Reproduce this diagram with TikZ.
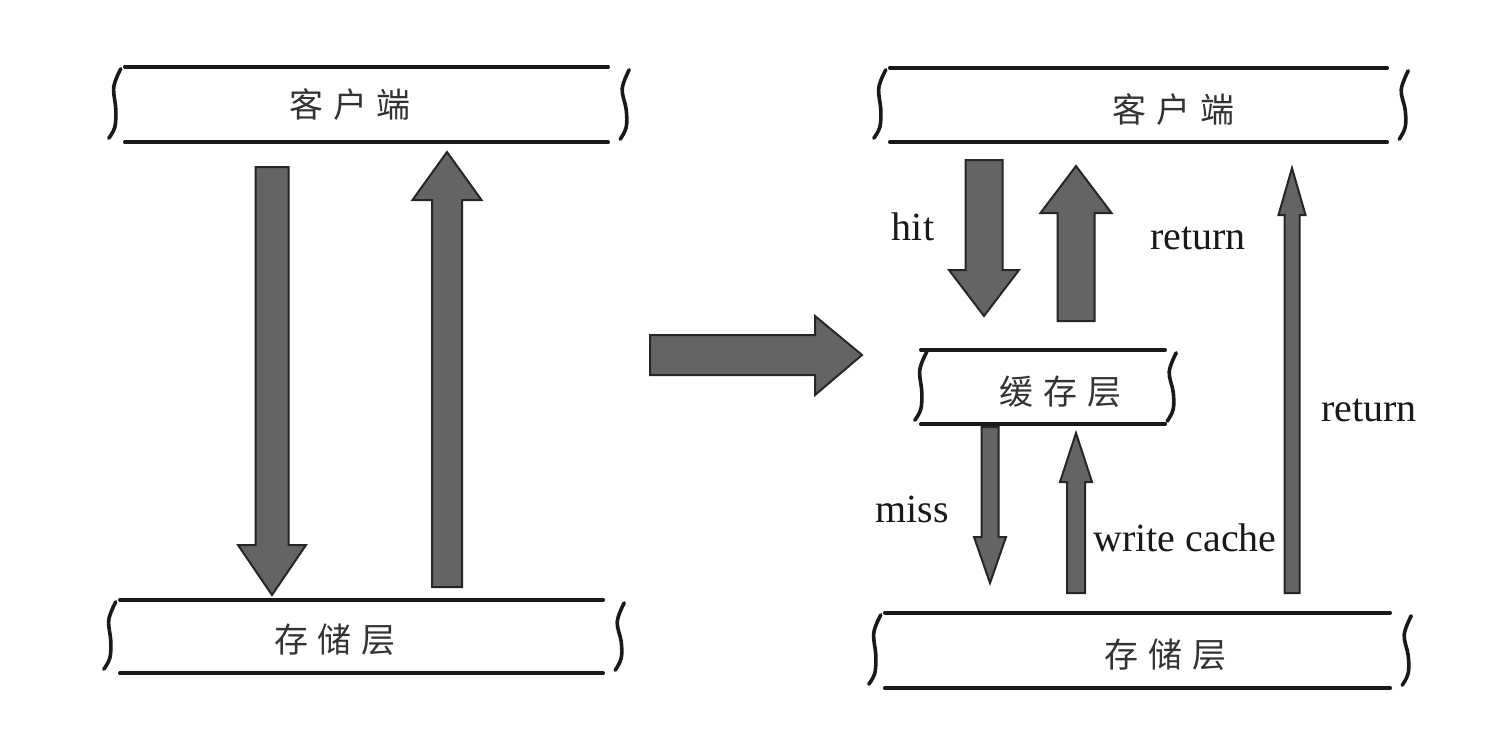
\documentclass[tikz,border=0pt]{standalone}
\usepackage{fontspec}
\setmainfont{Liberation Serif}
\newfontfamily\cjk{Noto Sans CJK SC}
\begin{document}
\begin{tikzpicture}[x=1pt,y=-1pt,
  layer/.style={rectangle,inner sep=0pt},
  bar/.style={line width=3.6pt,line cap=round,black!90},
  brace/.style={line width=3.6pt,line cap=round,line join=round,black!90},
  arr/.style={fill={rgb,255:red,100;green,100;blue,100},draw=black!85,line width=2pt,line join=miter},
  cn/.style={font=\cjk\fontsize{34}{40}\selectfont,text=black!80},
  lbl/.style={font=\fontsize{40}{44}\selectfont,text=black!90}]
\fill[white] (0,0) rectangle (1512,748);
\useasboundingbox (0,0) rectangle (1512,748);
% box name, left brace offset, right brace offset
\newcommand\layerbox[3]{%
  \draw[bar] (#1.north west) -- (#1.north east);
  \draw[bar] (#1.south west) -- (#1.south east);
  \draw[brace] plot[smooth,tension=0.6] coordinates {([shift={(-4+#2,2)}]#1.north west) ([shift={(-11+#2,20)}]#1.north west) ([shift={(-9+#2,5)}]#1.west) ([shift={(-10+#2,-15)}]#1.south west) ([shift={(-16+#2,-4)}]#1.south west)};
  \draw[brace] plot[smooth,tension=0.6] coordinates {([shift={(21+#3,3)}]#1.north east) ([shift={(14+#3,22)}]#1.north east) ([shift={(18+#3,5)}]#1.east) ([shift={(18+#3,-15)}]#1.south east) ([shift={(12+#3,-3)}]#1.south east)};
}
% vertical block arrow: x, tail y, tip y, half shaft, half head, head base y
\newcommand\varr[6]{%
  \draw[arr] (#1-#4,#2) -- (#1-#4,#6) -- (#1-#5,#6) -- (#1,#3) -- (#1+#5,#6) -- (#1+#4,#6) -- (#1+#4,#2) -- cycle;}

% left side
\node[layer,minimum width=483pt,minimum height=75pt] (ltop) at (366.5,104.5) {};
\node[layer,minimum width=483pt,minimum height=73pt] (lbot) at (361.5,636.5) {};
\layerbox{ltop}{0}{0}
\layerbox{lbot}{0}{0}
\node[cn] (ltoptext) at (350,105) {客\hspace{10pt}户\hspace{10pt}端};
\node[cn] (lbottext) at (335,640) {存\hspace{10pt}储\hspace{10pt}层};
\varr{272}{167}{595}{16.5}{34}{545}
\varr{447}{587}{152}{15}{34.5}{200}

% middle arrow
\draw[arr] (650,335) -- (815,335) -- (815,316) -- (862,355) -- (815,395) -- (815,375) -- (650,375) -- cycle;

% right side
\node[layer,minimum width=497pt,minimum height=74pt] (rtop) at (1138.5,105) {};
\node[layer,minimum width=505pt,minimum height=75pt] (rbot) at (1137.5,650.5) {};
\node[layer,minimum width=244pt,minimum height=74pt] (cache) at (1043,387) {};
\layerbox{rtop}{0}{0}
\layerbox{rbot}{0}{0}
\layerbox{cache}{10}{-10}
\node[cn] (rtoptext) at (1173,110) {客\hspace{10pt}户\hspace{10pt}端};
\node[cn] (rbottext) at (1165,655) {存\hspace{10pt}储\hspace{10pt}层};
\node[cn] (cachetext) at (1060,392) {缓\hspace{10pt}存\hspace{10pt}层};

\varr{984}{160}{316}{18.5}{35}{270}
\varr{1076}{321}{166}{18.5}{35.5}{213}
\varr{990}{427}{583}{8.5}{16}{537}
\varr{1076}{593}{433}{9}{16}{482}
\varr{1292}{593}{168}{7.5}{13.5}{215}

\node[lbl] (hit) at (913,227) {hit};
\node[lbl] (ret1) at (1198,238) {return};
\node[lbl] (miss) at (912,509) {miss};
\node[lbl] (wc) at (1185,538) {write cache};
\node[lbl] (ret2) at (1369,410) {return};
\end{tikzpicture}
\end{document}
